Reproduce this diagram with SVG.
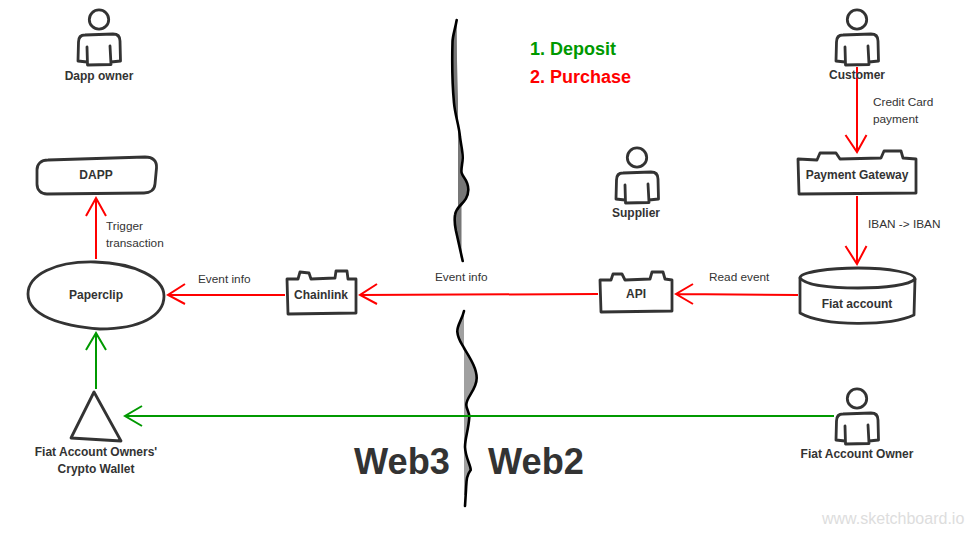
<svg xmlns="http://www.w3.org/2000/svg" width="980" height="539" viewBox="0 0 980 539">
<style>
text{font-family:"Liberation Sans",Arial,sans-serif;fill:#333}
.n{font-size:12px;font-weight:bold;text-anchor:middle}
.l{font-size:11.8px}
.s{fill:none;stroke:#333;stroke-width:2.8;stroke-linejoin:round;stroke-linecap:round}
.f{fill:#fff;stroke:#333;stroke-width:2.8;stroke-linejoin:round}
.r{fill:none;stroke:#f00;stroke-width:2}
.g{fill:none;stroke:#090;stroke-width:2}
.sep{fill:none;stroke:#000;stroke-width:2.6;stroke-linecap:round}
</style>
<defs>
<g id="person">
<circle cx="99" cy="19.500" r="9.700" class="s"/>
<path class="s" d="M87,47 L87.500,65 L111,64.500 L110,46 M87,62 L78,61 L78.500,42 Q78.500,35 85,35 L113,34 Q120,34 120,41 L120.500,61 L111,62"/>
</g>
</defs>
<g id="sep-top">
<path fill="#777" d="M456.700,20 C455,30 452.700,35 452.500,42 C452,60 452.300,85 454,103 L460,137 L461.500,157 L461.500,173 C466,180 468.500,185 468,192 C467.500,200 462,205 461.500,207 L461.500,262 L459,245 L455,227 L455,215 L458,210 L458,130 L458,100 L457,60 Z"/>
<path class="sep" d="M456.700,20 C455,30 452.700,35 452.500,42 C452,60 452.300,85 454,103 C455,115 459,125 460,137 C461,145 462.500,150 462.700,157 C463,162 460.500,170 461.700,173 C463,178 468.500,180 468.300,190 C468,203 456,205 455,215 C454,222 455,226 456,231 L462.700,261"/>
</g>
<g id="sep-bottom">
<path fill="#a0a0a0" d="M464,311 C462,320 457,325 457.300,331.700 C458,340 462,344 464,348 C470,358 476.700,368 476.700,378 C476.700,390 466,397 466.300,405 L469.300,416.700 C468,430 465,438 465,447 C465.500,458 470.700,465 470.700,470 C466,476 466,482 465.500,495 L464,495 Z"/>
<path class="sep" d="M464,311 C462,320 457,325 457.300,331.700 C458,340 462,344 464,348 C470,358 476.700,368 476.700,378 C476.700,390 466,397 466.300,405 C466.500,410 469.500,412 469.300,417 C468.500,430 465,438 465,447 C465.500,458 470.700,465 470.700,470 C466,476 466.500,482 466,490 L465,506"/>
</g>
<g id="connectors">
<path class="r" d="M857,67 V152 M845.500,135 L857,152 L866.500,135"/>
<path class="r" d="M857,196 V264 M845.500,246 L857,264 L866.500,246"/>
<path class="r" d="M798,295 L676,294 M693,284 L676,294 L693,304"/>
<path class="r" d="M598,294 L360,295 M377,284 L360,295 L377,304"/>
<path class="r" d="M285,295 H168 M185,284 L168,295 L185,304"/>
<path class="r" d="M96,259 V198 M86,216 L96,198 L106,216"/>
<path class="g" d="M96,389 V333 M86,350 L96,333 L106,350"/>
<path class="g" d="M834,416 H125 M142,406 L125,416 L142,426"/>
</g>
<g id="dapp-owner"><use href="#person"/><text class="n" x="99" y="80">Dapp owner</text></g>
<g id="customer"><use href="#person" x="758"/><text class="n" x="857" y="79">Customer</text></g>
<g id="supplier"><use href="#person" x="538" y="138"/><text class="n" x="636" y="217">Supplier</text></g>
<g id="fiat-owner"><use href="#person" x="758" y="379"/><text class="n" x="857" y="458">Fiat Account Owner</text></g>
<g id="dapp"><path class="f" d="M48,160 L145,157 C153,157 157,161 156.500,168 L155,184 C154.500,190 150,193 144,193 L47,194 C41,194 37,190 37,184 L37,170 C37,164 41,160 48,160 Z"/><text class="n" x="96" y="179">DAPP</text></g>
<g id="paperclip"><path class="f" d="M28,294 C28,275 55,261 95,262 C135,263 164,278 164,296 C164,316 140,329 100,329 C60,326 28,315 28,294 Z"/><text class="n" x="96" y="299">Paperclip</text></g>
<g id="wallet"><path class="f" d="M94,392 L71,438 L121,441 Z"/><text class="n" x="96" y="456">Fiat Account Owners'</text><text class="n" x="96" y="473">Crypto Wallet</text></g>
<g id="chainlink"><path class="f" d="M287,279 L298,279 L300,272 L309,273 L311,279 L335,278 L336,271 L347,271 L348,279 L356,279 L356,313 L288,314 Z"/><text class="n" x="321" y="299">Chainlink</text></g>
<g id="api"><path class="f" d="M600,280 L611,280 L613,274 L622,274 L625,280 L650,279 L652,272 L663,272 L665,279 L672,280 L672,311 L601,312 Z"/><text class="n" x="636" y="298">API</text></g>
<g id="gateway"><path class="f" d="M798,159 L817,160 L820,153 L836,153 L840,159 L881,158 L884,151 L901,151 L903,158 L916,159 L916,193 L799,194 Z"/><text class="n" x="857" y="179">Payment Gateway</text></g>
<g id="fiat-account"><path class="f" d="M800,278 C800,272 830,268 858,268 C890,268 915,273 915,279 L914,315 C890,326 825,327 800,313 Z"/><path class="s" d="M800,278 C805,285 830,288 858,288 C885,288 910,285 915,279"/><text class="n" x="857" y="308">Fiat account</text></g>
<g id="labels">
<text class="l" x="873" y="106">Credit Card</text>
<text class="l" x="873" y="123">payment</text>
<text class="l" x="868" y="228">IBAN -&gt; IBAN</text>
<text class="l" x="709" y="281">Read event</text>
<text class="l" x="435" y="281">Event info</text>
<text class="l" x="198" y="283">Event info</text>
<text class="l" x="106" y="230">Trigger</text>
<text class="l" x="106" y="247">transaction</text>
<text x="530" y="55" font-size="18" font-weight="bold" style="fill:#090">1. Deposit</text>
<text x="530" y="83" font-size="18" font-weight="bold" style="fill:#f00">2. Purchase</text>
<text x="354" y="474" font-size="36.200" font-weight="bold">Web3</text>
<text x="488" y="474" font-size="36.200" font-weight="bold">Web2</text>
<text x="822" y="524" font-size="16" style="fill:#ddd">www.sketchboard.io</text>
</g>
</svg>
